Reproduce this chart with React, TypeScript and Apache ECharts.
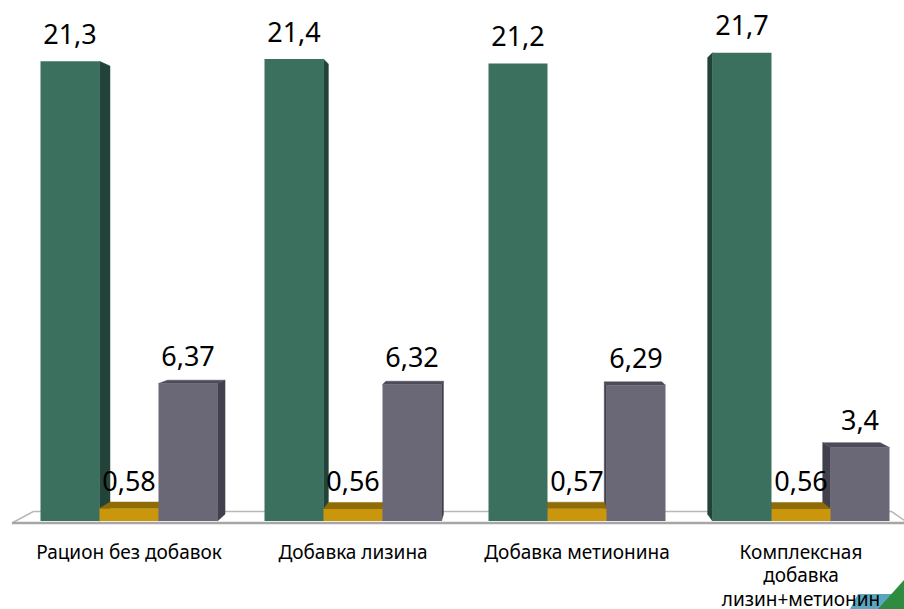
import React, { useEffect, useRef } from 'react';
import * as echarts from 'echarts';

const categories = [
  'Рацион без добавок',
  'Добавка лизина',
  'Добавка метионина',
  'Комплексная\nдобавка\nлизин+метионин',
];
const greenValues = [21.3, 21.4, 21.2, 21.7];
const yellowValues = [0.58, 0.56, 0.57, 0.56];
const grayValues = [6.37, 6.32, 6.29, 3.4];

const fmt = (v: number) => String(v).replace('.', ',');

const K_BAR = 0.025;
const K_FLOOR = 0.042;
const FONT = '"Noto Sans", "Open Sans", sans-serif';

const palettes = [
  { front: '#3b705f', side: '#21433a', top: '#2d5a4c' },
  { front: '#c9960c', side: '#8d6a04', top: '#8f6c06' },
  { front: '#6a6777', side: '#42404d', top: '#4d4b59' },
];

const vp = (cs: any) => ({ vx: cs.x + cs.width * 0.56, vy: cs.y + cs.height * 0.477 });
const proj = (p: number[], v: any, k: number) => [p[0] + k * (v.vx - p[0]), p[1] + k * (v.vy - p[1])];

const poly = (points: number[][], fill: string) => ({
  type: 'polygon',
  shape: { points },
  style: { fill, stroke: fill, lineWidth: 0.5 },
});

export default function App() {
  const ref = useRef<HTMLDivElement>(null);
  useEffect(() => {
    document.body.style.margin = '0';
    document.body.style.overflow = 'hidden';
    const chart = echarts.init(ref.current!, null, { renderer: 'svg' });

    const renderFloor = (params: any, api: any) => {
      const cs = params.coordSys;
      const v = vp(cs);
      const y = api.coord([0, 0])[1] + 2;
      const fl = [cs.x - 5, y];
      const fr = [cs.x + cs.width - 5, y];
      const bl = proj(fl, v, K_FLOOR);
      const br = proj(fr, v, K_FLOOR);
      return {
        type: 'group',
        children: [
          { type: 'polygon', shape: { points: [fl, bl, br, fr] }, style: { fill: '#fff', stroke: '#b8b8b8', lineWidth: 1.5 } },
          { type: 'line', shape: { x1: fl[0], y1: fl[1], x2: fr[0], y2: fr[1] }, style: { stroke: '#a6a6a6', lineWidth: 2.5 } },
        ],
      };
    };

    const renderBars = (params: any, api: any) => {
      const cs = params.coordSys;
      const v = vp(cs);
      const idx = api.value(0);
      const vals = [api.value(1), api.value(2), api.value(3)];
      const base = api.coord([idx, 0]);
      const band = api.size([1, 0])[0];
      const bw = band * 0.2634;
      const yb = base[1];
      const bars = vals.map((val: number, j: number) => {
        const xl = base[0] - 1.5 * bw + j * bw;
        return { j, val, xl, xr: xl + bw, yt: api.coord([idx, val])[1] };
      });
      const order = [...bars].sort(
        (a, b) => Math.abs((b.xl + b.xr) / 2 - v.vx) - Math.abs((a.xl + a.xr) / 2 - v.vx)
      );
      const backs: any[] = [];
      const fronts: any[] = [];
      const labels: any[] = [];
      order.forEach((b) => {
        const pal = palettes[b.j];
        const ftl = [b.xl, b.yt], ftr = [b.xr, b.yt], fbl = [b.xl, yb], fbr = [b.xr, yb];
        const btl = proj(ftl, v, K_BAR), btr = proj(ftr, v, K_BAR);
        const bbl = proj(fbl, v, K_BAR), bbr = proj(fbr, v, K_BAR);
        if (btr[0] > b.xr) backs.push(poly([ftr, btr, bbr, fbr], pal.side));
        if (btl[0] < b.xl) backs.push(poly([ftl, btl, bbl, fbl], pal.side));
        if (btl[1] < b.yt) backs.push(poly([ftl, ftr, btr, btl], pal.top));
        fronts.push({
          type: 'rect',
          shape: { x: b.xl, y: b.yt, width: b.xr - b.xl, height: yb - b.yt },
          style: { fill: pal.front },
        });
        labels.push({
          type: 'text',
          style: {
            text: fmt(b.val),
            x: (b.xl + b.xr) / 2,
            y: b.yt - 28,
            align: 'center',
            verticalAlign: 'middle',
            fontSize: 27,
            fontFamily: FONT,
            fill: '#000',
          },
        });
      });
      return { type: 'group', children: [...backs, ...fronts, ...labels] };
    };

    chart.setOption({
      animation: false,
      backgroundColor: '#ffffff',
      grid: { left: 17, right: 0, top: 3, bottom: 88, outerBoundsMode: 'none', containLabel: false },
      xAxis: {
        type: 'category',
        data: categories,
        axisLine: { show: false },
        axisTick: { show: false },
        splitLine: { show: false },
        axisLabel: {
          interval: 0,
          color: '#000',
          fontSize: 19,
          fontFamily: FONT,
          lineHeight: 23.5,
          margin: 19,
        },
      },
      yAxis: { type: 'value', min: 0, max: 24, show: false },
      graphic: [
        { type: 'polygon', z: -10, shape: { points: [[850, 609], [858, 594], [896, 594], [896, 609]] }, style: { fill: '#5ba6be' } },
        { type: 'polygon', z: -10, shape: { points: [[878, 609], [904, 580], [904, 609]] }, style: { fill: '#2e8b3f' } },
      ],
      series: [
        {
          type: 'custom',
          z: 1,
          renderItem: renderFloor,
          data: [[0]],
          silent: true,
        },
        {
          type: 'custom',
          z: 2,
          renderItem: renderBars,
          encode: { x: 0, y: [1, 2, 3] },
          data: categories.map((_, i) => [i, greenValues[i], yellowValues[i], grayValues[i]]),
        },
      ],
    });
    return () => chart.dispose();
  }, []);
  return (
    <div style={{ width: 904, height: 609, overflow: 'hidden', position: 'relative' }}>
      <div ref={ref} style={{ width: 913, height: 609 }} />
    </div>
  );
}
